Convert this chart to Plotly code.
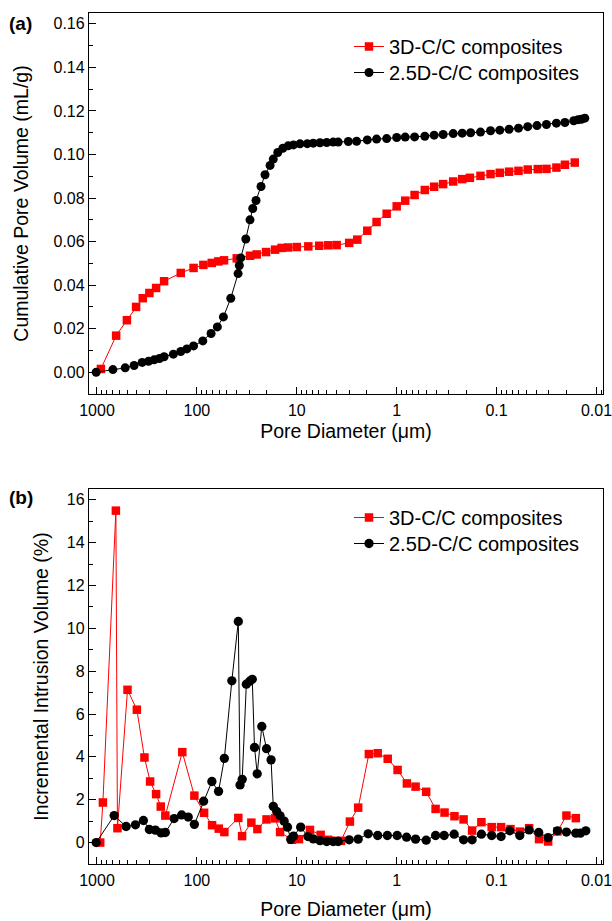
import plotly.graph_objects as go

# ---- (a) cumulative pore volume ----
d3_cum = [914, 643, 502, 406, 348, 299, 256, 213, 145, 108, 86.1, 71.0, 61.0, 53.5, 39.9,
          29.4, 25.2, 20.3, 16.5, 14.2, 12.2, 10.0, 7.67, 5.96, 4.84, 3.99, 2.99, 2.48, 1.97,
          1.59, 1.26, 1.00, 0.822, 0.662, 0.523, 0.422, 0.343, 0.272, 0.221, 0.185, 0.145,
          0.115, 0.0929, 0.0750, 0.0604, 0.0488, 0.0387, 0.0317, 0.0252, 0.0207, 0.0165]
v3_cum = [0.0015, 0.0168, 0.0239, 0.0300, 0.0340, 0.0364, 0.0387, 0.0418, 0.0456, 0.0479,
          0.0493, 0.0502, 0.0509, 0.0514, 0.0523, 0.0535, 0.0541, 0.0552, 0.0563, 0.0571,
          0.0573, 0.0575, 0.0578, 0.0581, 0.0583, 0.0584, 0.0594, 0.0609, 0.0650, 0.0690,
          0.0728, 0.0762, 0.0788, 0.0814, 0.0837, 0.0852, 0.0864, 0.0876, 0.0887, 0.0893,
          0.0902, 0.0910, 0.0916, 0.0921, 0.0925, 0.0931, 0.0933, 0.0934, 0.0940, 0.0953,
          0.0963]

d25_cum = [1019, 693, 522, 425, 353, 305, 268, 237, 213, 172, 145, 126, 108, 87.3, 72.1,
           62.4, 54.3, 45.8, 38.7, 37.6, 36.4, 32.4, 29.4, 27.6, 25.6, 22.8, 20.8, 18.5,
           17.2, 15.5, 13.8, 12.2, 10.8, 9.29, 7.85, 6.84, 5.86, 5.02, 4.32, 3.85, 3.05,
           2.52, 1.97, 1.59, 1.26, 1.00, 0.822, 0.662, 0.523, 0.422, 0.343, 0.272, 0.221,
           0.182, 0.145, 0.115, 0.0929, 0.0750, 0.0604, 0.0488, 0.0394, 0.0317, 0.0252,
           0.0207, 0.0169, 0.0153, 0.0142, 0.0131]
v25_cum = [0.0, 0.0012, 0.0020, 0.0031, 0.0045, 0.0050, 0.0057, 0.0063, 0.0071, 0.0083,
           0.0095, 0.0107, 0.0121, 0.0144, 0.0178, 0.0208, 0.0254, 0.0340, 0.0453, 0.0490,
           0.0525, 0.0612, 0.0700, 0.0752, 0.0789, 0.0853, 0.0907, 0.0950, 0.0979, 0.1009,
           0.1029, 0.1040, 0.1044, 0.1049, 0.1050, 0.1052, 0.1054, 0.1055, 0.1057, 0.1057,
           0.1060, 0.1061, 0.1067, 0.1071, 0.1073, 0.1078, 0.1080, 0.1081, 0.1084, 0.1089,
           0.1092, 0.1096, 0.1098, 0.1100, 0.1103, 0.1109, 0.1112, 0.1116, 0.1121, 0.1128,
           0.1133, 0.1138, 0.1144, 0.1147, 0.1155, 0.1160, 0.1162, 0.1167]

# ---- (b) incremental intrusion volume ----
d3_inc = [929, 873, 647, 624, 495, 399, 335, 294, 256, 230, 207, 140, 106, 84.7, 70.5,
          60.4, 53.1, 38.5, 35.3, 28.5, 24.8, 20.1, 16.5, 14.7, 11.2, 9.51, 7.38, 5.77,
          4.87, 4.06, 3.61, 2.94, 2.43, 1.90, 1.55, 1.23, 0.98, 0.791, 0.647, 0.507, 0.408,
          0.332, 0.264, 0.214, 0.176, 0.142, 0.112, 0.0902, 0.0726, 0.0586, 0.0473, 0.0376,
          0.0305, 0.0246, 0.0200, 0.0161]
v3_inc = [0.0, 1.87, 15.49, 0.67, 7.13, 6.20, 3.97, 2.85, 2.26, 1.68, 1.26, 4.22, 2.19,
          1.39, 0.81, 0.65, 0.49, 1.15, 0.30, 0.93, 0.63, 1.08, 1.13, 0.49, 0.13, 0.16,
          0.59, 0.36, 0.13, 0.08, 0.08, 0.98, 1.63, 4.13, 4.17, 3.91, 3.39, 2.76, 2.61,
          2.37, 1.57, 1.40, 1.23, 1.08, 0.56, 0.95, 0.72, 0.72, 0.63, 0.51, 0.67, 0.16,
          0.05, 0.52, 1.26, 1.14]

d25_inc = [1019, 673, 511, 412, 343, 299, 260, 228, 207, 169, 142, 122, 106, 85.7, 70.8,
           60.7, 53.1, 44.7, 38.5, 37.0, 35.2, 32.0, 29.6, 27.9, 26.5, 24.9, 22.4, 20.1,
           18.1, 17.2, 15.9, 14.7, 13.4, 12.4, 11.5, 10.8, 9.14, 7.73, 6.84, 5.86, 5.02,
           4.32, 3.85, 2.99, 2.43, 1.93, 1.55, 1.24, 0.989, 0.796, 0.647, 0.507, 0.408,
           0.335, 0.266, 0.214, 0.176, 0.142, 0.112, 0.0902, 0.0738, 0.0586, 0.0473,
           0.0379, 0.0305, 0.0246, 0.0200, 0.0161, 0.0145, 0.0128]
v25_inc = [0.0, 1.26, 0.75, 0.83, 1.03, 0.61, 0.58, 0.45, 0.47, 1.12, 1.29, 1.19, 0.85,
           1.93, 2.85, 2.39, 3.93, 7.55, 10.32, 2.69, 2.95, 7.39, 7.53, 7.62, 4.44, 3.21,
           5.42, 4.38, 3.86, 1.69, 1.45, 1.25, 1.00, 0.72, 0.15, 0.30, 0.72, 0.28, 0.17,
           0.09, 0.05, 0.05, 0.05, 0.13, 0.16, 0.41, 0.33, 0.33, 0.33, 0.25, 0.16, 0.11,
           0.33, 0.33, 0.39, 0.13, 0.13, 0.39, 0.33, 0.28, 0.55, 0.33, 0.59, 0.47, 0.23,
           0.55, 0.49, 0.44, 0.44, 0.55]

series_names = ["3D-C/C composites", "2.5D-C/C composites"]
x_tick_vals = [1000, 100, 10, 1, 0.1, 0.01]
x_tick_text = ["1000", "100", "10", "1", "0.1", "0.01"]
y1_ticks = [0.00, 0.02, 0.04, 0.06, 0.08, 0.10, 0.12, 0.14, 0.16]
y2_ticks = [0, 2, 4, 6, 8, 10, 12, 14, 16]

W, H = 612, 921
ML, MR, MT, MB = 89, 9, 13, 57
FONT = "Arial, Liberation Sans, sans-serif"
RED, BLACK = "#FF0000", "#000000"

plot_h = H - MT - MB
def ypaper(py):
    return (H - MB - py) / plot_h
def xpaper(px):
    return (px - ML) / (W - ML - MR)

fig = go.Figure()

def add_series(x, y, name, color, symbol, size, xa, ya, legend):
    fig.add_trace(go.Scatter(x=x, y=y, mode="lines+markers", name=name,
                             line=dict(color=color, width=1),
                             marker=dict(symbol=symbol, size=size, color=color),
                             xaxis=xa, yaxis=ya, legend=legend))

# (a)
add_series(d3_cum, v3_cum, series_names[0], RED, "square", 8.5, "x", "y", "legend")
add_series(d25_cum, v25_cum, series_names[1], BLACK, "circle", 9, "x", "y", "legend2")
# (b)
add_series(d3_inc, v3_inc, series_names[0], RED, "square", 8.5, "x2", "y2", "legend3")
add_series(d25_inc, v25_inc, series_names[1], BLACK, "circle", 9.3, "x2", "y2", "legend4")

minor_x = [m * 10 ** e for e in range(-3, 4) for m in range(2, 10)]

def xaxis_style(anchor, standoff):
    return dict(type="log", range=[3.08, -2.065], anchor=anchor, automargin=False,
                tickvals=x_tick_vals, ticktext=x_tick_text, ticklabeloverflow="allow",
                ticks="inside", ticklen=7, tickwidth=1.3, tickcolor=BLACK,
                ticklabelstandoff=2,
                minor=dict(tickvals=minor_x, ticks="inside", ticklen=4, tickwidth=1.1,
                           tickcolor=BLACK, showgrid=False),
                showline=True, linecolor=BLACK, linewidth=1.3, mirror=True,
                showgrid=False, zeroline=False,
                tickfont=dict(family=FONT, size=16, color=BLACK),
                title=dict(text="Pore Diameter (μm)", standoff=standoff,
                           font=dict(family=FONT, size=19.5, color=BLACK)))

def yaxis_style(domain, rng, ticks, fmt, minor_step, title, standoff):
    return dict(domain=domain, range=rng, tickvals=ticks, tickformat=fmt, automargin=False,
                ticks="inside", ticklen=7, tickwidth=1.3, tickcolor=BLACK,
                minor=dict(dtick=minor_step, ticks="inside", ticklen=4, tickwidth=1.1,
                           tickcolor=BLACK, showgrid=False),
                showline=True, linecolor=BLACK, linewidth=1.3, mirror=True,
                showgrid=False, zeroline=False,
                tickfont=dict(family=FONT, size=16, color=BLACK),
                title=dict(text=title, standoff=standoff,
                           font=dict(family=FONT, size=19.5, color=BLACK)))

def legend_at(top_px):
    return dict(x=xpaper(349), y=ypaper(top_px), xanchor="left", yanchor="top",
                bgcolor="rgba(0,0,0,0)", borderwidth=0,
                font=dict(family=FONT, size=20, color=BLACK))

fig.update_layout(
    width=W, height=H,
    margin=dict(l=ML, r=MR, t=MT, b=MB, autoexpand=False),
    paper_bgcolor="white", plot_bgcolor="white",
    showlegend=True,
    xaxis=xaxis_style("y", 6),
    yaxis=yaxis_style([ypaper(394), 1.0], [-0.01, 0.165], y1_ticks, ".2f", 0.01,
                      "Cumulative Pore Volume (mL/g)", 19),
    xaxis2=xaxis_style("y2", 14),
    yaxis2=yaxis_style([0.0, ypaper(489)], [-1.0, 16.5], y2_ticks, "d", 1,
                       "Incremental Intrusion Volume (%)", 13),
    legend=legend_at(27),
    legend2=legend_at(53),
    legend3=legend_at(498),
    legend4=legend_at(524),
    annotations=[
        dict(text="<b>(a)</b>", x=xpaper(7), y=ypaper(11), xref="paper", yref="paper",
             xanchor="left", yanchor="top", showarrow=False,
             font=dict(family=FONT, size=19, color=BLACK)),
        dict(text="<b>(b)</b>", x=xpaper(7), y=ypaper(485), xref="paper", yref="paper",
             xanchor="left", yanchor="top", showarrow=False,
             font=dict(family=FONT, size=19, color=BLACK)),
    ],
)

fig.write_html("out.html")
